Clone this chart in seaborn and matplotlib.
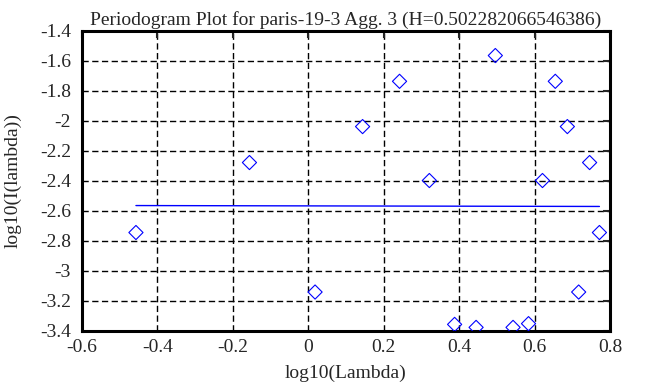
import matplotlib
matplotlib.use('Agg')
import matplotlib.pyplot as plt
import numpy as np
import pandas as pd
import seaborn as sns

# periodogram points (log10 lambda, log10 I(lambda))
log_lambda = [-0.457, -0.156, 0.018, 0.144, 0.242, 0.321, 0.388, 0.445, 0.496,
              0.543, 0.584, 0.621, 0.655, 0.687, 0.717, 0.746, 0.772]
log_i = [-2.745, -2.278, -3.142, -2.038, -1.736, -2.398, -3.358, -3.378, -1.564,
         -3.378, -3.353, -2.398, -1.736, -2.038, -3.142, -2.278, -2.745]

# least squares fit line end points
fit_x = [-0.457, 0.772]
fit_y = [-2.565, -2.571]

title = 'Periodogram Plot for paris-19-3 Agg. 3 (H=0.502282066546386)'

sns.set_style('white')
plt.rcParams['font.family'] = ['Liberation Serif', 'DejaVu Serif']
fs = 14

fig = plt.figure(figsize=(6.53, 3.87), dpi=100)
ax = fig.add_axes([0.1256, 0.1455, 0.8085, 0.7745])

df = pd.DataFrame({'x': log_lambda, 'y': log_i})
sns.scatterplot(data=df, x='x', y='y', marker='D', s=52, facecolor='none',
                edgecolor='blue', linewidth=0.8, ax=ax, zorder=3)
sns.lineplot(x=fit_x, y=fit_y, color='blue', linewidth=1, ax=ax, zorder=3)

ax.set_xlim(-0.6, 0.8)
ax.set_ylim(-3.4, -1.4)
ax.set_xticks(np.arange(-0.6, 0.81, 0.2))
ax.set_yticks(np.arange(-3.4, -1.39, 0.2))
ax.set_xticklabels(['-0.6', '-0.4', '-0.2', '0', '0.2', '0.4', '0.6', '0.8'])
ax.set_yticklabels(['-3.4', '-3.2', '-3', '-2.8', '-2.6', '-2.4', '-2.2', '-2',
                    '-1.8', '-1.6', '-1.4'])
ax.grid(True, color='black', linestyle=(0, (4.5, 2.5)), linewidth=1)
ax.tick_params(direction='in', length=5, width=1.5, top=True, right=True,
               labelsize=fs)
ax.tick_params(axis='x', pad=6)
ax.tick_params(axis='y', pad=8)
for sp in ax.spines.values():
    sp.set_linewidth(2.2)
    sp.set_color('black')

ax.set_title(title, fontsize=fs, pad=4)
ax.set_xlabel('log10(Lambda)', fontsize=fs, labelpad=6)
ax.set_ylabel('log10(I(lambda))', fontsize=fs, labelpad=13)

fig.savefig('out.png', dpi=100)
